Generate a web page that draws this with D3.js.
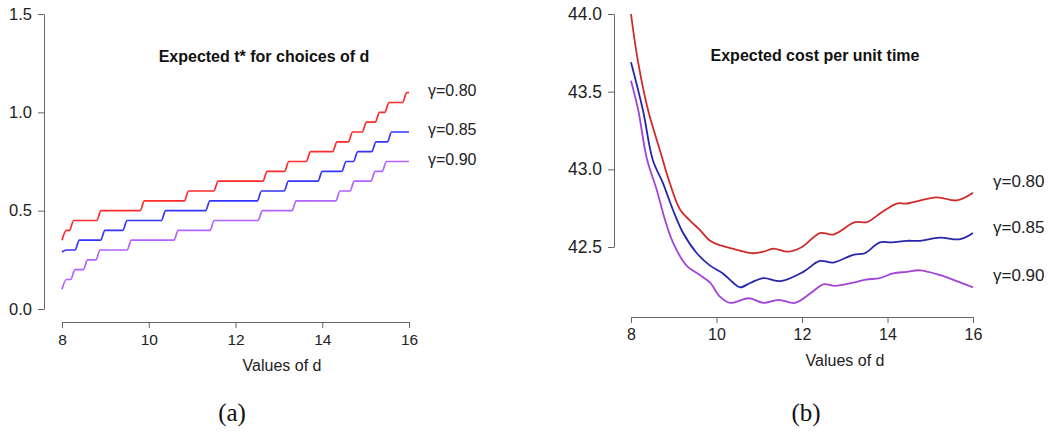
<!DOCTYPE html>
<html>
<head>
<meta charset="utf-8">
<script src="https://cdn.jsdelivr.net/npm/d3@7"></script>
<style>
  html, body { margin: 0; padding: 0; background: #fff; }
  svg { display: block; }
  .tick text { font-family: "Liberation Sans", Arial, sans-serif; fill: #222; }
  .lab { font-family: "Liberation Sans", Arial, sans-serif; font-size: 16px; fill: #222; }
  .ttl { font-family: "Liberation Sans", Arial, sans-serif; font-size: 16px; font-weight: bold; fill: #111; }
  .cap { font-family: "Liberation Serif", "DejaVu Serif", serif; font-size: 25px; fill: #111; }
</style>
</head>
<body>
<svg id="fig" width="1048" height="436"></svg>
<script>
// ---- Panel (a): expected t* as step functions of d ----
// each series: starting level at d = 8, then [d where the step begins, new level]
const seriesNamesA = ["γ=0.80", "γ=0.85", "γ=0.90"];
const startA_080 = 0.35;
const stepsA_080 = [[8.00,0.40],[8.17,0.45],[8.80,0.50],[9.80,0.55],[10.82,0.60],[11.50,0.65],
  [12.63,0.70],[13.13,0.75],[13.63,0.80],[14.24,0.85],[14.60,0.90],[14.92,0.95],[15.22,1.00],
  [15.44,1.05],[15.85,1.10]];
const startA_085 = 0.29;
const stepsA_085 = [[8.00,0.30],[8.30,0.35],[8.89,0.40],[9.40,0.45],[10.29,0.50],[11.31,0.55],
  [12.50,0.60],[13.12,0.65],[13.90,0.70],[14.45,0.75],[14.72,0.80],[15.14,0.85],[15.50,0.90]];
const startA_090 = 0.10;
const stepsA_090 = [[8.00,0.15],[8.20,0.20],[8.49,0.25],[8.78,0.30],[9.50,0.35],[10.58,0.40],
  [11.41,0.45],[12.52,0.50],[13.30,0.55],[14.31,0.60],[14.64,0.65],[15.12,0.70],[15.38,0.75]];
const yTicksA = [0.0, 0.5, 1.0, 1.5];
const xTicks = [8, 10, 12, 14, 16];

// ---- Panel (b): expected cost per unit time, [d, cost] ----
const seriesNamesB = ["γ=0.80", "γ=0.85", "γ=0.90"];
const costB_080 = [[8.00,44.00],[8.16,43.70],[8.40,43.38],[8.68,43.12],[8.91,42.91],[9.15,42.74],
  [9.38,42.67],[9.61,42.61],[9.85,42.54],[10.10,42.51],[10.50,42.48],[10.82,42.46],[11.10,42.47],
  [11.33,42.49],[11.67,42.47],[12.00,42.50],[12.42,42.59],[12.73,42.58],[13.24,42.66],[13.52,42.66],
  [13.85,42.72],[14.22,42.78],[14.45,42.78],[15.15,42.82],[15.62,42.80],[16.00,42.85]];
const costB_085 = [[8.00,43.69],[8.28,43.38],[8.51,43.06],[8.75,42.91],[8.98,42.74],[9.22,42.59],
  [9.54,42.46],[9.85,42.38],[10.15,42.33],[10.39,42.27],[10.55,42.24],[10.80,42.27],[11.10,42.30],
  [11.50,42.28],[12.03,42.34],[12.42,42.41],[12.73,42.40],[13.20,42.45],[13.47,42.46],[13.82,42.53],
  [14.10,42.53],[14.45,42.54],[14.76,42.54],[15.22,42.56],[15.70,42.55],[16.00,42.59]];
const costB_090 = [[8.00,43.57],[8.17,43.38],[8.37,43.07],[8.60,42.87],[8.80,42.67],[8.98,42.53],
  [9.30,42.38],[9.61,42.32],[9.85,42.27],[10.08,42.18],[10.32,42.14],[10.76,42.17],[11.10,42.14],
  [11.45,42.16],[11.84,42.14],[12.19,42.20],[12.50,42.26],[12.77,42.25],[13.20,42.27],[13.50,42.29],
  [13.82,42.30],[14.13,42.33],[14.45,42.34],[14.76,42.35],[15.22,42.32],[15.62,42.28],[16.00,42.24]];
const yTicksB = [42.5, 43.0, 43.5, 44.0];

const colorsA = ["#ff2a2a", "#3434ff", "#b262ff"];
const colorsB = ["#d02a2a", "#2626aa", "#a443d8"];

const svg = d3.select("#fig");
svg.append("rect").attr("width", 1048).attr("height", 436).attr("fill", "#fff");

function styleAxis(size) {
  return g => {
    g.selectAll(".domain").attr("stroke", "#666");
    g.selectAll(".tick line").attr("stroke", "#666");
    g.selectAll(".tick text").style("font-size", size + "px");
  };
}

// ---------- panel (a) ----------
const xA = d3.scaleLinear().domain([8, 16]).range([62, 409]);
const yA = d3.scaleLinear().domain([0, 1.5]).range([309, 14]);

svg.append("g").attr("transform", "translate(44,0)")
  .call(d3.axisLeft(yA).tickValues(yTicksA).tickFormat(d3.format(".1f"))
    .tickSize(6).tickSizeOuter(0).tickPadding(6))
  .call(styleAxis(16.5));
svg.append("g").attr("transform", "translate(0,322)")
  .call(d3.axisBottom(xA).tickValues(xTicks).tickFormat(d3.format("d"))
    .tickSize(6).tickSizeOuter(0).tickPadding(6))
  .call(styleAxis(15.5));

// step path with a short ramp at each change of level
const ramp = 0.1;
function stepPoints(start, steps) {
  const pts = [];
  let level = start;
  steps.forEach(([d, v]) => {
    pts.push([d, level]);
    pts.push([d + ramp, v]);
    level = v;
  });
  pts.push([16, level]);
  return pts;
}
const lineA = d3.line().x(p => xA(p[0])).y(p => yA(p[1])).curve(d3.curveMonotoneX);
const seriesA = [stepPoints(startA_080, stepsA_080), stepPoints(startA_085, stepsA_085),
                 stepPoints(startA_090, stepsA_090)];
seriesA.forEach((pts, i) => {
  svg.append("path").attr("d", lineA(pts)).attr("fill", "none")
    .attr("stroke", colorsA[i]).attr("stroke-width", 1.7).attr("stroke-linejoin", "round");
});

svg.append("text").attr("class", "ttl").attr("x", 264).attr("y", 58)
  .attr("text-anchor", "middle").attr("dominant-baseline", "middle")
  .text("Expected t* for choices of d");
svg.append("text").attr("class", "lab").attr("x", 282).attr("y", 367)
  .attr("text-anchor", "middle").attr("dominant-baseline", "middle").text("Values of d");
const labelYA = [92, 131, 161];
seriesNamesA.forEach((s, i) => {
  svg.append("text").attr("class", "lab").attr("x", 428).attr("y", labelYA[i])
    .attr("dominant-baseline", "middle").text(s);
});

// ---------- panel (b) ----------
const xB = d3.scaleLinear().domain([8, 16]).range([631, 973]);
const yB = d3.scaleLinear().domain([42.5, 44]).range([247, 14]);

svg.append("g").attr("transform", "translate(614,0)")
  .call(d3.axisLeft(yB).tickValues(yTicksB).tickFormat(d3.format(".1f"))
    .tickSize(6).tickSizeOuter(0).tickPadding(6))
  .call(styleAxis(17.5));
svg.append("g").attr("transform", "translate(0,317)")
  .call(d3.axisBottom(xB).tickValues(xTicks).tickFormat(d3.format("d"))
    .tickSize(6).tickSizeOuter(0).tickPadding(6))
  .call(styleAxis(16));

const lineB = d3.line().x(p => xB(p[0])).y(p => yB(p[1])).curve(d3.curveCatmullRom.alpha(0.5));
[costB_080, costB_085, costB_090].forEach((pts, i) => {
  svg.append("path").attr("d", lineB(pts)).attr("fill", "none")
    .attr("stroke", colorsB[i]).attr("stroke-width", 1.8).attr("stroke-linejoin", "round");
});

svg.append("text").attr("class", "ttl").attr("x", 815).attr("y", 57)
  .attr("text-anchor", "middle").attr("dominant-baseline", "middle")
  .text("Expected cost per unit time");
svg.append("text").attr("class", "lab").attr("x", 845).attr("y", 362)
  .attr("text-anchor", "middle").attr("dominant-baseline", "middle").text("Values of d");
const labelYB = [183, 229, 277];
seriesNamesB.forEach((s, i) => {
  svg.append("text").attr("class", "lab").attr("x", 993).attr("y", labelYB[i])
    .style("font-size", "17px").attr("dominant-baseline", "middle").text(s);
});

// sub-figure captions
svg.append("text").attr("class", "cap").attr("x", 232).attr("y", 415)
  .attr("text-anchor", "middle").attr("dominant-baseline", "middle").text("(a)");
svg.append("text").attr("class", "cap").attr("x", 806).attr("y", 415)
  .attr("text-anchor", "middle").attr("dominant-baseline", "middle").text("(b)");
</script>
</body>
</html>
